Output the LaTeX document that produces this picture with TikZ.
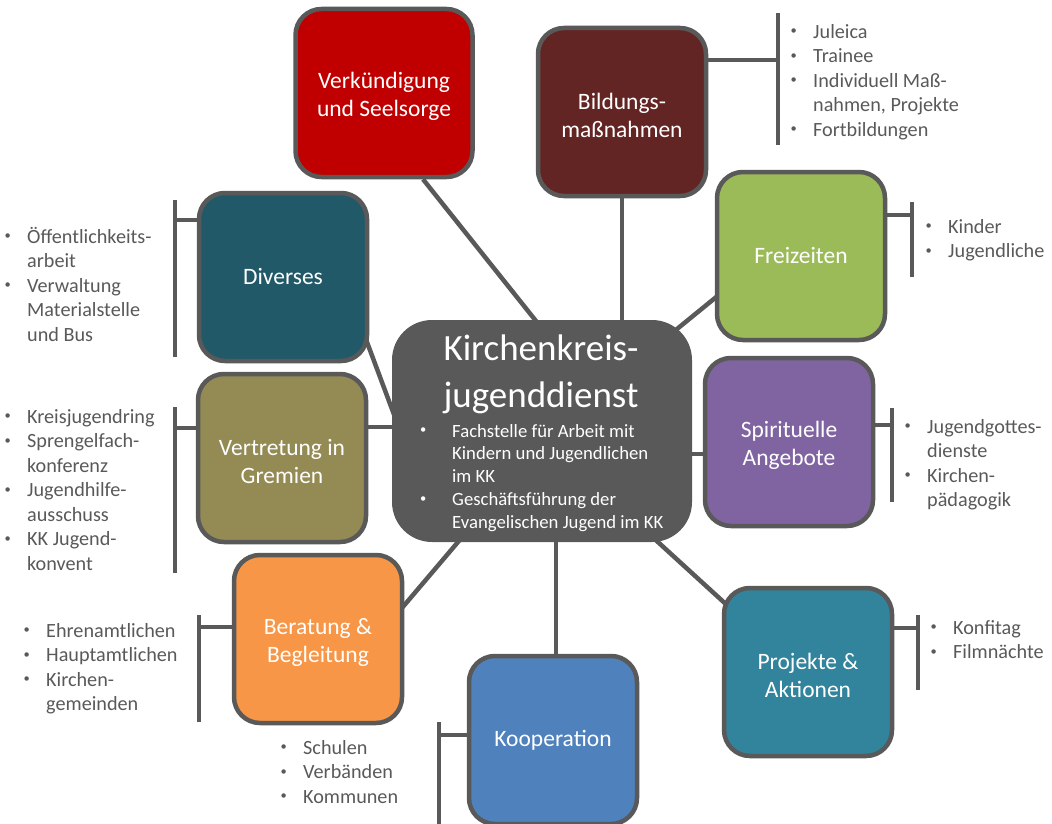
\documentclass[tikz,border=0pt]{standalone}
\usepackage{fontspec}
\setmainfont{Carlito}
\usetikzlibrary{calc,backgrounds}

\definecolor{kkgray}{HTML}{595959}
\definecolor{verkred}{HTML}{C00000}
\definecolor{bildbrown}{HTML}{632523}
\definecolor{freigreen}{HTML}{9BBB59}
\definecolor{spirpurple}{HTML}{8064A2}
\definecolor{divteal}{HTML}{215968}
\definecolor{vertolive}{HTML}{948A54}
\definecolor{berorange}{HTML}{F79646}
\definecolor{koopblue}{HTML}{4F81BD}
\definecolor{projteal}{HTML}{31849B}

\newcommand{\smalldot}{\raisebox{0.17em}{\fontsize{12.5}{12.5}\selectfont\textbullet}}
\newcommand{\bl}[1][24.5pt]{\strut\makebox[#1][l]{\hspace{2pt}\smalldot}\ignorespaces}
\newcommand{\ind}[1][24.5pt]{\strut\hspace*{#1}\ignorespaces}
\newcommand{\toprow}{\rule{0pt}{23.5pt}}

\begin{document}
\begin{tikzpicture}[x=1pt,y=-1pt,
  box/.style={draw=kkgray,line width=4.5pt,rounded corners=26pt,minimum width=168pt,
    minimum height=168pt,inner sep=0pt,align=center,text=white,font=\fontsize{23.5}{28}\selectfont},
  hub/.style={fill=kkgray,rounded corners=40pt,minimum width=300pt,minimum height=222pt},
  title/.style={anchor=north,inner sep=0pt,align=center,text=white,font=\fontsize{37}{47}\selectfont},
  items/.style={anchor=north west,inner sep=0pt,align=left,text=kkgray,font=\fontsize{20.2}{24.5}\selectfont},
  link/.style={draw=kkgray,line width=4.5pt}]
  \useasboundingbox (0,0) rectangle (1052,824);

  \node[hub] (kkjd) at (542,431) {};
  \node[title] (kkjdtitle) at (541,327) {\strut Kirchenkreis-\\\strut jugenddienst};
  \node[items,text=white,font=\fontsize{18.7}{22.8}\selectfont] (kkjdlist) at (418,421)
    {\bl[34pt] Fachstelle für Arbeit mit\\\ind[34pt] Kindern und Jugendlichen\\\ind[34pt] im KK\\
     \bl[34pt] Geschäftsführung der\\\ind[34pt] Evangelischen Jugend im KK};

  \node[box,fill=verkred,minimum width=177pt] (verk) at (384,93) {\toprow Verkündigung\\und Seelsorge};
  \node[box,fill=bildbrown] (bild) at (622,112) {\toprow Bildungs-\\maßnahmen};
  \node[box,fill=freigreen] (frei) at (801,256) {Freizeiten};
  \node[box,fill=spirpurple] (spir) at (789,442) {\toprow Spirituelle\\Angebote};
  \node[box,fill=divteal] (div) at (283,277) {Diverses};
  \node[box,fill=vertolive] (vert) at (282,458) {\toprow Vertretung in\\Gremien};
  \node[box,fill=berorange] (ber) at (318,639) {\toprow Beratung \&\\Begleitung};
  \node[box,fill=koopblue] (koop) at (553,740) {Kooperation};
  \node[box,fill=projteal] (proj) at (808,672) {\toprow Projekte \&\\Aktionen};

  \node[items] (bildlist) at (788.5,21)
    {\bl Juleica\\\bl Trainee\\\bl Individuell Maß-\\\ind nahmen, Projekte\\\bl Fortbildungen};
  \node[items] (freilist) at (923.5,216) {\bl Kinder\\\bl Jugendliche};
  \node[items] (spirlist) at (902.5,416)
    {\bl Jugendgottes-\\\ind dienste\\\bl Kirchen-\\\ind pädagogik};
  \node[items] (divlist) at (2.5,226)
    {\bl Öffentlichkeits-\\\ind arbeit\\\bl Verwaltung\\\ind Materialstelle\\\ind und Bus};
  \node[items] (vertlist) at (2.5,406)
    {\bl Kreisjugendring\\\bl Sprengelfach-\\\ind konferenz\\\bl Jugendhilfe-\\\ind ausschuss\\
     \bl KK Jugend-\\\ind konvent};
  \node[items] (berlist) at (21.5,620)
    {\bl Ehrenamtlichen\\\bl Hauptamtlichen\\\bl Kirchen-\\\ind gemeinden};
  \node[items] (kooplist) at (278.5,737) {\bl Schulen\\\bl Verbänden\\\bl Kommunen};
  \node[items] (projlist) at (928.5,617) {\bl Konfitag\\\bl Filmnächte};

  \begin{pgfonlayer}{background}
    \draw[link] ($(verk.south)+(39,0)$) -- ($(kkjd.north)+(1,10)$);
    \draw[link] (bild.south) -- ($(bild.south |- kkjd.north)+(0,10)$);
    \draw[link] ($(frei.west)+(15,30)$) -- ($(kkjd.north east)+(-26,18)$);
    \draw[link] ($(spir.west)+(5,12)$) -- ($(kkjd.east)+(-5,23)$);
    \draw[link] ($(div.east)+(-18,23)$) -- ($(kkjd.west)+(5,-9)$);
    \draw[link] ($(vert.east)+(-5,-31)$) -- ($(kkjd.west)+(5,-4)$);
    \draw[link] ($(ber.east)+(-21,-9)$) -- ($(kkjd.south)+(-74,-12)$);
    \draw[link] ($(koop.north)+(3,5)$) -- ($(kkjd.south)+(14,-5)$);
    \draw[link] ($(proj.west)+(27,-47)$) -- ($(kkjd.south)+(103,-12)$);
    \foreach \n/\x/\ya/\yb/\yj in {bild/778/13/145/60, frei/912/202/277/215,
        spir/892/408/502/425, div/175/200/357/220, vert/175/407/573/428,
        ber/199/615/722/627, koop/439/722/830/735, proj/918/615/690/628} {
      \coordinate (\n top) at (\x,\ya);
      \coordinate (\n end) at (\x,\yb);
      \coordinate (\n join) at (\x,\yj);
      \draw[link] (\n top) -- (\n end);
      \draw[link] (\n join) -- (\n join -| \n.center);
    }
  \end{pgfonlayer}
\end{tikzpicture}
\end{document}
